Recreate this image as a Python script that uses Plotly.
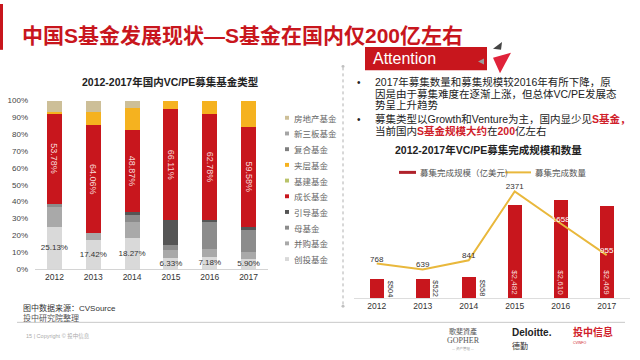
import plotly.graph_objects as go

# ---------------- data ----------------
years = ["2012", "2013", "2014", "2015", "2016", "2017"]

# stacked fund types (bottom -> top), shares in %
fund_types = ["创投基金", "并购基金", "母基金", "引导基金", "成长基金",
              "基建基金", "夹层基金", "复合基金", "新三板基金", "房地产基金"]
venture   = [25.13, 17.42, 18.27, 6.33, 7.18, 5.90]
buyout    = [11.5, 3.8, 9.5, 5.0, 4.5, 4.0]
fof       = [2.0, 0.0, 4.0, 3.0, 16.0, 13.5]
guidance  = [0.0, 0.0, 2.0, 14.5, 1.5, 1.5]
growth    = [53.78, 64.06, 48.87, 66.11, 62.78, 59.58]
infra     = [0.0, 0.0, 0.0, 0.0, 0.0, 0.0]
mezzanine = [0.5, 7.7, 12.9, 5.06, 8.04, 15.52]
hybrid    = [0.0, 0.0, 0.0, 0.0, 0.0, 0.0]
neeq      = [0.0, 0.0, 0.0, 0.0, 0.0, 0.0]
realestate = [7.09, 7.02, 4.46, 0.0, 0.0, 0.0]
series = [venture, buyout, fof, guidance, growth, infra, mezzanine, hybrid, neeq, realestate]
fund_colors = ["#d9d9d9", "#a9a9a9", "#8c8c8c", "#555555", "#c8161d",
               "#b9c36a", "#f5b21f", "#7f7f7f", "#a5a5a5", "#cdbf98"]

# fundraising completed
raise_scale = [504, 522, 558, 2482, 2610, 2469]   # 亿美元
raise_count = [768, 639, 841, 2371, 1658, 955]

yticks = [0, 10, 20, 30, 40, 50, 60, 70, 80, 90, 100]
ytick_labels = [f"{v}%" for v in yticks]

RED = "#c8161d"
FONT = "Liberation Sans, Noto Sans CJK SC, sans-serif"
CJK = "Noto Sans CJK SC, sans-serif"

W, H = 640, 360
def px(x): return x / W
def py(y): return 1 - y / H

fig = go.Figure()

# ---------------- left stacked chart ----------------
for name, vals, col in zip(fund_types, series, fund_colors):
    kw = {}
    if name == "创投基金":
        kw = dict(text=[f"{v:.2f}%" for v in vals], textposition="inside",
                  textangle=0, insidetextanchor="middle", constraintext="none",
                  textfont=dict(size=8, color="#333333", family=FONT))
    elif name == "成长基金":
        kw = dict(text=[f"{v:.2f}%" for v in vals], textposition="inside",
                  textangle=90, insidetextanchor="middle", constraintext="none",
                  textfont=dict(size=9, color="#f6d6d6", family=FONT))
    fig.add_trace(go.Bar(x=years, y=vals, name=name, marker_color=col,
                         marker_line_width=0, showlegend=False,
                         xaxis="x", yaxis="y", **kw))

# ---------------- right chart ----------------
idx = list(range(len(years)))
fig.add_trace(go.Bar(
    x=idx, y=raise_scale, width=0.3, marker_color=RED, marker_line_width=0,
    text=[f"${v:,}" if v > 1000 else "" for v in raise_scale],
    textposition="inside", insidetextanchor="start", textangle=90,
    constraintext="none", textfont=dict(size=8, color="#f6d6d6", family=FONT),
    showlegend=False, xaxis="x2", yaxis="y2"))
fig.add_trace(go.Scatter(
    x=idx, y=raise_count, mode="lines+text",
    line=dict(color="#e9b83c", width=2),
    text=[str(v) for v in raise_count], textposition="top center",
    textfont=dict(size=8, family=FONT,
                  color=["#333333", "#333333", "#333333", "#333333", "#ffffff", "#ffffff"]),
    showlegend=False, xaxis="x2", yaxis="y3", cliponaxis=False))

annotations = []
for i, v in zip(idx, raise_scale):
    if v <= 1000:
        annotations.append(dict(x=i + 0.29, y=v / 2, xref="x2", yref="y2",
                                text=f"${v:,}", textangle=90, showarrow=False,
                                font=dict(size=7.5, color="#333333", family=FONT)))

# ---------------- layout ----------------
fig.update_layout(
    width=W, height=H, margin=dict(l=0, r=0, t=0, b=0),
    paper_bgcolor="white", plot_bgcolor="rgba(0,0,0,0)",
    barmode="stack", bargap=0.61,
    font=dict(family=FONT),
    xaxis=dict(domain=[px(35), px(268)], anchor="y", showline=True,
               linecolor="#d4d4d4", ticks="", showgrid=False,
               tickfont=dict(size=8.5, color="#333333")),
    yaxis=dict(domain=[py(271.7), py(99)], anchor="x", range=[0, 100],
               tickvals=yticks, ticktext=ytick_labels, showgrid=False, zeroline=False,
               ticks="", ticklabelstandoff=6,
               tickfont=dict(size=8, color="#444444")),
    xaxis2=dict(domain=[px(353.7), px(629.7)], anchor="y2", range=[-0.5, 5.5],
                tickvals=idx, ticktext=years, showline=True, linecolor="#dddddd",
                ticks="", showgrid=False, zeroline=False,
                tickfont=dict(size=8.5, color="#333333")),
    yaxis2=dict(domain=[py(301.7), py(185)], anchor="x2", range=[0, 3034],
                visible=False),
    yaxis3=dict(overlaying="y2", range=[0, 2527], visible=False),
)

shapes = []
# left red accent bar
shapes.append(dict(type="rect", xref="paper", yref="paper", x0=0, x1=px(3),
                   y0=py(47), y1=1, fillcolor=RED, line_width=0))
# Attention box
shapes.append(dict(type="rect", xref="paper", yref="paper", x0=px(365), x1=px(487),
                   y0=py(68), y1=py(44), fillcolor=RED, line_width=0))
def tri(pts, color):
    d = "M " + " L ".join(f"{px(a)},{py(b)}" for a, b in pts) + " Z"
    return dict(type="path", xref="paper", yref="paper", path=d,
                fillcolor=color, line_width=0)
shapes.append(tri([(478, 59), (484, 56), (484, 62)], "#9a9a9a"))
shapes.append(tri([(493, 46), (502, 39), (501, 47)], "#444444"))
shapes.append(tri([(493, 55), (511, 50), (500, 71)], "#e0233a"))
# dotted vertical timeline
shapes.append(dict(type="line", xref="paper", yref="paper", x0=px(343), x1=px(343),
                   y0=py(65), y1=py(309), line=dict(color="#b0b0b0", width=1, dash="dot")))
for yy in (64, 310):
    shapes.append(dict(type="circle", xref="paper", yref="paper",
                       x0=px(341.5), x1=px(344.5), y0=py(yy + 1.5), y1=py(yy - 1.5),
                       fillcolor="#c0c0c0", line_width=0))
# bottom separator
shapes.append(dict(type="line", xref="paper", yref="paper", x0=px(17), x1=px(625),
                   y0=py(326.5), y1=py(326.5), line=dict(color="#c8c8c8", width=1)))
# right legend swatches
shapes.append(dict(type="line", xref="paper", yref="paper", x0=px(399), x1=px(416),
                   y0=py(172.7), y1=py(172.7), line=dict(color="#b0222b", width=3)))
shapes.append(dict(type="line", xref="paper", yref="paper", x0=px(505), x1=px(531),
                   y0=py(172.7), y1=py(172.7), line=dict(color="#e9b83c", width=2)))

def txt(x, y, s, size, color="#222222", anchor="left", family=CJK, **kw):
    annotations.append(dict(x=px(x), y=py(y), xref="paper", yref="paper", text=s,
                            showarrow=False, xanchor=anchor, yanchor="middle",
                            font=dict(size=size, color=color, family=family), **kw))

# title
txt(20, 32, "<b>中国S基金发展现状—S基金在国内仅200亿左右</b>", 21, RED,
    family="Liberation Sans, Noto Sans CJK SC")
txt(371, 56, "Attention", 16, "#ffffff", family="Liberation Sans")

# bullets
R = "#d0202a"
bullet_lines = [
    (80, True, "2017年募集数量和募集规模较2016年有所下降，原"),
    (92.5, False, "因是由于募集难度在逐渐上涨，但总体VC/PE发展态"),
    (104, False, "势呈上升趋势"),
    (118.3, True, f"募集类型以Growth和Venture为主，国内显少见<span style='color:{R}'><b>S基金，</b></span>"),
    (130, False, f"当前国内<span style='color:{R}'><b>S基金规模大约</b></span>在<span style='color:{R}'><b>200</b></span>亿左右"),
]
for yy, bul, s in bullet_lines:
    if bul:
        txt(355, yy, "•", 10, "#222222", family=FONT)
    txt(373, yy, s, 10.5, "#222222", family="Liberation Sans, Noto Sans CJK SC")

# chart titles
txt(170, 80, "<b>2012-2017年国内VC/PE募集基金类型</b>", 10.5, "#222222", anchor="center",
    family="Liberation Sans, Noto Sans CJK SC")
txt(488, 150, "<b>2012-2017年VC/PE募集完成规模和数量</b>", 10.5, "#222222", anchor="center",
    family="Liberation Sans, Noto Sans CJK SC")

# right legend text
txt(418, 172.7, "募集完成规模（亿美元)", 8.5, "#555555")
txt(533, 172.7, "募集完成数量", 8.5, "#555555")

# left legend (top -> bottom)
for k, (name, col) in enumerate(zip(reversed(fund_types), reversed(fund_colors))):
    yy = 116.7 + k * 16.1
    shapes.append(dict(type="rect", xref="paper", yref="paper", x0=px(285), x1=px(289),
                       y0=py(yy + 2), y1=py(yy - 2), fillcolor=col, line_width=0))
    txt(292, yy, name, 8.5, "#666666")

# source notes
txt(21, 311.7, "图中数据来源：CVSource", 8, "#333333", family="Liberation Sans, Noto Sans CJK SC")
txt(21, 321.7, "投中研究院整理", 8, "#555555")
txt(24, 341, "15 | Copyright © 投中信息", 5.5, "#aaaaaa", family="Liberation Sans, Noto Sans CJK SC")

# logos as text
txt(463, 335, "歌斐資產", 7, "#555555", anchor="center", family="Noto Sans CJK TC")
txt(463, 345, "GOPHER", 8, "#555555", anchor="center", family="Liberation Serif")
txt(463, 353, "— 资产管理 —", 3.5, "#999999", anchor="center")
txt(510, 337, "<b>Deloitte.</b>", 10, "#222222", family="Liberation Sans")
txt(510, 350, "德勤", 8, "#333333")
txt(571, 336, "<b>投中信息</b>", 10, "#d0202a")
txt(571, 347.5, "CVINFO", 3.5, "#d0202a", family="Liberation Sans")

fig.update_layout(shapes=shapes, annotations=annotations)
fig.write_html("out.html", config={"displayModeBar": False},
               post_script="document.body.style.margin='0';document.body.style.padding='0';")
